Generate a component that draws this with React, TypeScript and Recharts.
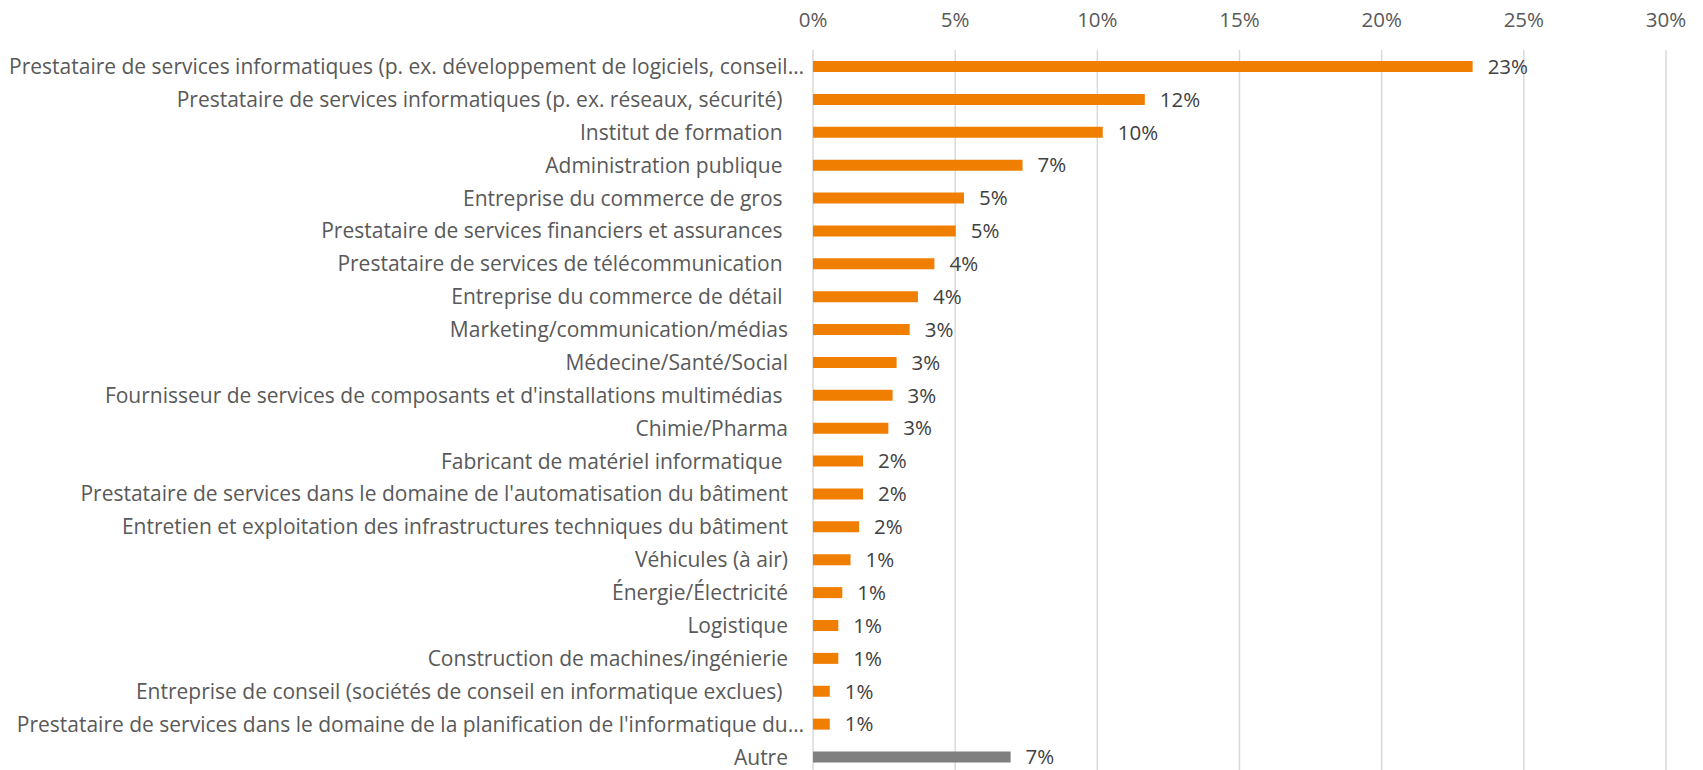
import { BarChart, Bar, XAxis, YAxis, CartesianGrid, LabelList, Cell } from "recharts";

// secteurs d'activité (les espaces finaux viennent des libellés d'origine)
const categories = [
  "Prestataire de services informatiques (p. ex. développement de logiciels, conseil…",
  "Prestataire de services informatiques (p. ex. réseaux, sécurité) ",
  "Institut de formation ",
  "Administration publique ",
  "Entreprise du commerce de gros ",
  "Prestataire de services financiers et assurances ",
  "Prestataire de services de télécommunication ",
  "Entreprise du commerce de détail ",
  "Marketing/communication/médias",
  "Médecine/Santé/Social",
  "Fournisseur de services de composants et d'installations multimédias ",
  "Chimie/Pharma",
  "Fabricant de matériel informatique ",
  "Prestataire de services dans le domaine de l'automatisation du bâtiment",
  "Entretien et exploitation des infrastructures techniques du bâtiment",
  "Véhicules (à air)",
  "Énergie/Électricité",
  "Logistique",
  "Construction de machines/ingénierie",
  "Entreprise de conseil (sociétés de conseil en informatique exclues) ",
  "Prestataire de services dans le domaine de la planification de l'informatique du…",
  "Autre",
];

// parts en %
const shares = [
  23.2, 11.67, 10.19, 7.37, 5.31, 5.02, 4.27, 3.69, 3.4, 2.94, 2.8, 2.65,
  1.76, 1.76, 1.62, 1.32, 1.03, 0.89, 0.89, 0.59, 0.59, 6.95,
];

const xTicks = [0, 5, 10, 15, 20, 25, 30];

const ORANGE = "#F07E00";
const GREY = "#7F7F7F";
const FONT = "'Open Sans', Lato, sans-serif";
const FONT_SIZE = 20.5;
const LABEL_SIZE = 21;

const data = categories.map((name, i) => ({ name, value: shares[i] }));

interface TickProps {
  x?: number;
  y?: number;
  payload?: { value: string };
}

function CategoryTick({ x = 0, y = 0, payload }: TickProps) {
  const label = payload?.value ?? "";
  // Excel lets the truncated labels run a bit closer to the axis
  const shift = label.endsWith("…") ? 1 : 17;
  return (
    <text
      x={x - shift}
      y={y}
      dy="0.36em"
      textAnchor="end"
      fill="#595959"
      fontSize={LABEL_SIZE}
      fontFamily={FONT}
      style={{ whiteSpace: "pre" }}
    >
      {label}
    </text>
  );
}

export default function App() {
  return (
    <div
      style={{
        position: "absolute",
        left: 0,
        top: 0,
        width: 1703,
        height: 770,
        overflow: "hidden",
        background: "#fff",
      }}
    >
      <BarChart
        width={1703}
        height={775}
        data={data}
        layout="vertical"
        margin={{ top: 20, right: 37, left: 0, bottom: 1.6 }}
      >
        <CartesianGrid
          horizontal={false}
          stroke="#D9D9D9"
          strokeWidth={1.5}
        />
        <XAxis
          type="number"
          orientation="top"
          domain={[0, 30]}
          ticks={xTicks}
          tickFormatter={(v: number) => `${v}%`}
          axisLine={false}
          tickLine={false}
          tickSize={0}
          tickMargin={23}
          height={30}
          interval={0}
          tick={{ fontSize: FONT_SIZE, fill: "#595959", fontFamily: FONT }}
        />
        <YAxis
          type="category"
          dataKey="name"
          width={813}
          axisLine={false}
          tickLine={false}
          interval={0}
          tick={<CategoryTick />}
        />
        <Bar dataKey="value" barSize={11} isAnimationActive={false}>
          {data.map((d, i) => (
            <Cell key={d.name} fill={i === data.length - 1 ? GREY : ORANGE} />
          ))}
          <LabelList
            dataKey="value"
            position="right"
            offset={15}
            formatter={(v: number) => `${Math.round(v)}%`}
            fill="#404040"
            fontSize={FONT_SIZE}
            fontFamily={FONT}
          />
        </Bar>
      </BarChart>
    </div>
  );
}
